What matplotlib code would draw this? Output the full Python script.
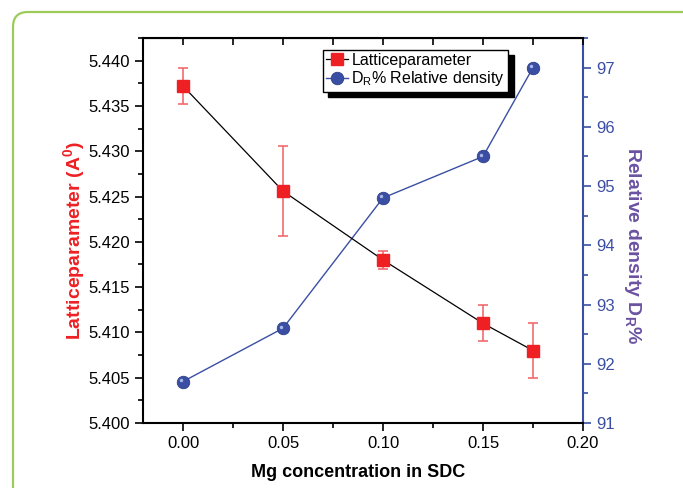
import matplotlib
matplotlib.use("Agg")
import matplotlib.pyplot as plt
from matplotlib.patches import FancyBboxPatch
from matplotlib.ticker import MultipleLocator
from matplotlib.transforms import offset_copy

# data
mg = [0.00, 0.05, 0.10, 0.15, 0.175]
lattice = [5.4372, 5.4256, 5.4180, 5.4110, 5.4080]
lattice_err = [0.0020, 0.0050, 0.0010, 0.0020, 0.0030]
density = [91.7, 92.6, 94.8, 95.5, 97.0]

plt.rcParams['font.family'] = ['Liberation Sans', 'DejaVu Sans']
plt.rcParams['mathtext.fontset'] = 'custom'
plt.rcParams['mathtext.rm'] = 'Liberation Sans'
plt.rcParams['mathtext.bf'] = 'Liberation Sans:bold'

red = "#ee2024"
blue = "#3a4fa3"
purple = "#6a52a2"

fig = plt.figure(figsize=(6.83, 4.88), dpi=100)

# green rounded frame (cropped on the right and bottom)
frame = FancyBboxPatch((0.13, -0.5), 8.0, 4.76 + 0.5,
                       boxstyle="round,pad=0,rounding_size=0.15",
                       transform=fig.dpi_scale_trans, facecolor="none",
                       edgecolor="#9ccb5a", lw=1.6)
fig.patches.append(frame)

ax = fig.add_axes([143/683, 1 - 423/488, 440/683, 385/488])
ax.errorbar(mg, lattice, yerr=lattice_err, fmt='none', ecolor="#f26b6e",
            elinewidth=1.2, capsize=3.6, capthick=1.2, zorder=2)
l1, = ax.plot(mg, lattice, '-', color='k', lw=0.9, marker='s', ms=8,
              mfc=red, mec=red, zorder=3, label="Latticeparameter")

ax.set_xlim(-0.02, 0.20)
ax.set_ylim(5.400, 5.4425)
ax.xaxis.set_major_locator(MultipleLocator(0.05))
ax.xaxis.set_minor_locator(MultipleLocator(0.025))
ax.yaxis.set_major_locator(MultipleLocator(0.005))
ax.yaxis.set_minor_locator(MultipleLocator(0.0025))
ax.set_xticks([0.00, 0.05, 0.10, 0.15, 0.20])
ax.set_xticklabels(["0.00", "0.05", "0.10", "0.15", "0.20"])
ax.set_yticklabels(["%.3f" % v for v in ax.get_yticks()])
ax.tick_params(which='major', direction='out', length=6, width=1.2, labelsize=12)
ax.tick_params(which='minor', direction='out', length=3.5, width=1.2)
for s in ['left', 'bottom', 'top']:
    ax.spines[s].set_linewidth(1.5)
ax.spines['right'].set_visible(False)

top = ax.secondary_xaxis('top')
top.xaxis.set_major_locator(MultipleLocator(0.05))
top.xaxis.set_minor_locator(MultipleLocator(0.025))
top.tick_params(which='both', direction='in', length=5, width=1.2, labeltop=False)

ax.set_xlabel("Mg concentration in SDC", fontsize=13, fontweight='bold')
ax.xaxis.set_label_coords(0.49, -0.107)
ax.set_ylabel("Latticeparameter (A$^{\\mathbf{0}}$)", fontsize=14, fontweight='bold',
              color=red)
ax.yaxis.set_label_coords(-0.125, 0.475)

ax2 = ax.twinx()
l2, = ax2.plot(mg, density, '-', color=blue, lw=1.0, marker='o', ms=9,
               mfc=blue, mec="#2d3f8a", mew=0.6, zorder=3,
               label="D$_\\mathregular{R}$% Relative density")
# little highlight on the spheres
hl = offset_copy(ax2.transData, fig=fig, x=-1.2, y=1.2, units='points')
ax2.plot(mg, density, 'o', ms=2.5, color="#aab6e6", mew=0, transform=hl, zorder=4)
ax2.set_ylim(91, 97.5)
ax2.yaxis.set_major_locator(MultipleLocator(1))
ax2.yaxis.set_minor_locator(MultipleLocator(0.5))
ax2.tick_params(which='major', direction='out', length=6, width=1.2, color=blue,
                labelcolor=blue, labelsize=12)
ax2.tick_params(which='minor', direction='out', length=3.5, width=1.2, color=blue)
ax2.spines['right'].set_color(blue)
ax2.spines['right'].set_linewidth(1.5)
for s in ['left', 'top', 'bottom']:
    ax2.spines[s].set_visible(False)
ax2.set_ylabel("Relative density D$_\\mathregular{R}$%", fontsize=14, fontweight='bold',
               color=purple, rotation=270, va='center')
ax2.yaxis.set_label_coords(1.113, 0.46)

leg = ax.legend([l1, l2], [l1.get_label(), l2.get_label()], loc='upper left',
                bbox_to_anchor=(0.408, 0.97), fontsize=11.5, frameon=True,
                fancybox=False, edgecolor='k', handlelength=1.4, handletextpad=0.2,
                borderpad=0.2, labelspacing=0.1, borderaxespad=0,
                shadow={'ox': 4, 'oy': -4, 'color': 'k', 'alpha': 1, 'shade': 0})
leg.get_frame().set_linewidth(1.0)
leg.set_zorder(10)
ax.set_zorder(ax2.get_zorder() + 1)
ax.patch.set_visible(False)

fig.savefig("out.png", dpi=100)
